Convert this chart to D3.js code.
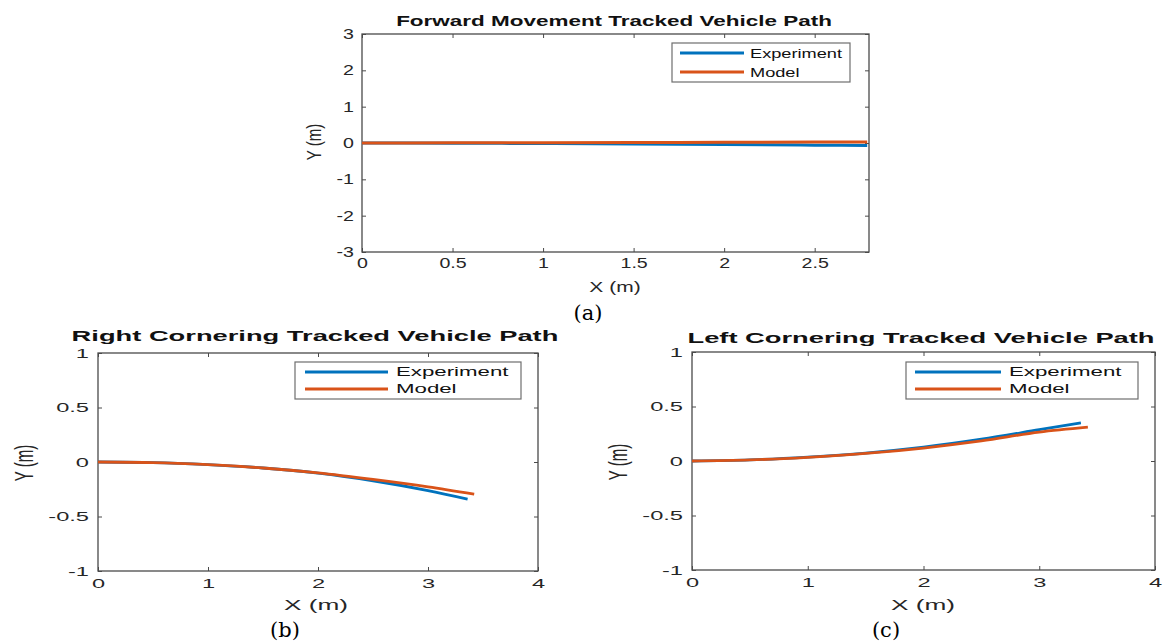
<!DOCTYPE html>
<html>
<head>
<meta charset="utf-8">
<script src="https://cdn.jsdelivr.net/npm/d3@7"></script>
<style>
  html, body { margin: 0; padding: 0; background: #fff; }
  svg { display: block; }
</style>
</head>
<body>
<svg id="chart" width="1170" height="643"></svg>
<script>
// ---------------- DATA ----------------
const seriesNames = ["Experiment", "Model"];

// (a) Forward movement
const fwdExpX   = [0, 0.5, 1.0, 1.5, 2.0, 2.5, 2.79];
const fwdExpY   = [0, -0.005, -0.015, -0.028, -0.042, -0.06, -0.07];
const fwdModelX = [0, 0.5, 1.0, 1.5, 2.0, 2.5, 2.79];
const fwdModelY = [0, 0.004, 0.009, 0.014, 0.019, 0.025, 0.03];

// (b) Right cornering
const rcExpX   = [0, 0.5, 1.0, 1.5, 2.0, 2.5, 3.0, 3.36];
const rcExpY   = [0, -0.005, -0.024, -0.055, -0.102, -0.172, -0.262, -0.34];
const rcModelX = [0, 0.5, 1.0, 1.5, 2.0, 2.5, 3.0, 3.42];
const rcModelY = [0, -0.005, -0.024, -0.055, -0.1, -0.16, -0.228, -0.295];

// (c) Left cornering
const lcExpX   = [0, 0.5, 1.0, 1.5, 2.0, 2.5, 3.0, 3.36];
const lcExpY   = [0, 0.01, 0.036, 0.073, 0.127, 0.2, 0.287, 0.35];
const lcModelX = [0, 0.5, 1.0, 1.5, 2.0, 2.5, 3.0, 3.42];
const lcModelY = [0, 0.01, 0.034, 0.069, 0.119, 0.184, 0.265, 0.31];

// tick labels
const fwdXTicks = [0, 0.5, 1, 1.5, 2, 2.5];
const fwdYTicks = [-3, -2, -1, 0, 1, 2, 3];
const cornXTicks = [0, 1, 2, 3, 4];
const cornYTicks = [-1, -0.5, 0, 0.5, 1];

const titles = [
  "Forward Movement Tracked Vehicle Path",
  "Right Cornering Tracked Vehicle Path",
  "Left Cornering Tracked Vehicle Path"
];
const panelLabels = ["(a)", "(b)", "(c)"];

// ---------------- STYLE ----------------
const colors = ["#0072BD", "#D95319"];
const axisColor = "#4a4a4a";
const textColor = "#262626";
const sansFont = "'Liberation Sans', Arial, Helvetica, sans-serif";
const serifFont = "'DejaVu Serif', Cambria, serif";

const svg = d3.select("#chart");
svg.append("rect").attr("width", 1170).attr("height", 643).attr("fill", "#fff");

function drawPanel(p) {
  const g = svg.append("g");
  const x = d3.scaleLinear().domain(p.xDomain).range([p.left, p.right]);
  const y = d3.scaleLinear().domain(p.yDomain).range([p.bottom, p.top]);
  const sx = p.sx;
  const fmt = d => String(d);

  function styleTicks(sel, showText) {
    sel.select(".domain").remove();
    sel.selectAll(".tick line").attr("stroke", axisColor).attr("stroke-width", 1);
    if (showText) {
      sel.selectAll(".tick text")
        .attr("font-family", sansFont)
        .attr("font-size", p.tickFont)
        .attr("fill", textColor)
        .attr("transform", `scale(${sx},1)`);
    } else {
      sel.selectAll(".tick text").remove();
    }
  }

  // bottom axis
  g.append("g").attr("transform", `translate(0,${p.bottom})`)
    .call(d3.axisBottom(x).tickValues(p.xTicks).tickSizeInner(-4).tickSizeOuter(0)
      .tickPadding(p.xPad).tickFormat(fmt))
    .call(s => styleTicks(s, true));
  // left axis
  g.append("g").attr("transform", `translate(${p.left},0)`)
    .call(d3.axisLeft(y).tickValues(p.yTicks).tickSizeInner(-4).tickSizeOuter(0)
      .tickPadding(p.yGap / sx).tickFormat(fmt))
    .call(s => styleTicks(s, true));
  // top axis (ticks only)
  g.append("g").attr("transform", `translate(0,${p.top})`)
    .call(d3.axisTop(x).tickValues(p.xTicks).tickSizeInner(-4).tickSizeOuter(0))
    .call(s => styleTicks(s, false));
  // right axis (ticks only)
  g.append("g").attr("transform", `translate(${p.right},0)`)
    .call(d3.axisRight(y).tickValues(p.yTicks).tickSizeInner(-4).tickSizeOuter(0))
    .call(s => styleTicks(s, false));

  // box
  g.append("rect")
    .attr("x", p.left).attr("y", p.top)
    .attr("width", p.right - p.left).attr("height", p.bottom - p.top)
    .attr("fill", "none").attr("stroke", axisColor).attr("stroke-width", 1.3);

  // lines
  const line = d3.line().x(d => x(d[0])).y(d => y(d[1])).curve(d3.curveMonotoneX);
  p.series.forEach((s, i) => {
    g.append("path")
      .datum(d3.zip(s.xs, s.ys))
      .attr("d", line)
      .attr("fill", "none")
      .attr("stroke", colors[i])
      .attr("stroke-width", p.lineWidth)
      .attr("stroke-linecap", "butt")
      .attr("stroke-linejoin", "round");
  });

  // title
  g.append("text")
    .attr("transform", `translate(${p.titleX},${p.titleY}) scale(${p.titleSx},1)`)
    .attr("text-anchor", "middle")
    .attr("font-family", sansFont)
    .attr("font-weight", "bold")
    .attr("font-size", p.titleFont)
    .attr("fill", "#111")
    .text(p.title);

  // axis labels
  g.append("text")
    .attr("transform", `translate(${p.xLabelX},${p.xLabelY}) scale(${sx},1)`)
    .attr("text-anchor", "middle").attr("dy", "0.35em")
    .attr("font-family", sansFont).attr("font-size", p.labelFont)
    .attr("fill", textColor)
    .text("X (m)");
  g.append("text")
    .attr("transform", `translate(${p.yLabelX},${p.yLabelY}) scale(${sx},1) rotate(-90)`)
    .attr("text-anchor", "middle").attr("dy", "0.35em")
    .attr("font-family", sansFont).attr("font-size", p.labelFont)
    .attr("fill", textColor)
    .text("Y (m)");

  // legend
  const L = p.legend;
  g.append("rect")
    .attr("x", L.x0).attr("y", L.y0)
    .attr("width", L.x1 - L.x0).attr("height", L.y1 - L.y0)
    .attr("fill", "#fff").attr("stroke", "#6e6e6e").attr("stroke-width", 1.2);
  seriesNames.forEach((name, i) => {
    const yy = L.rows[i];
    g.append("line")
      .attr("x1", L.lx0).attr("x2", L.lx1).attr("y1", yy).attr("y2", yy)
      .attr("stroke", colors[i]).attr("stroke-width", p.lineWidth);
    g.append("text")
      .attr("transform", `translate(${L.tx},${yy}) scale(${L.sx},1)`)
      .attr("dy", "0.35em")
      .attr("font-family", sansFont).attr("font-size", L.font)
      .attr("fill", "#111")
      .text(name);
  });

  // panel label
  svg.append("text")
    .attr("x", p.capX).attr("y", p.capY).attr("dy", "0.35em")
    .attr("text-anchor", "middle")
    .attr("font-family", serifFont).attr("font-size", 21)
    .attr("fill", "#000")
    .text(p.caption);
}

// (a)
drawPanel({
  left: 362, right: 869, top: 34, bottom: 252,
  xDomain: [0, 2.8], yDomain: [-3, 3],
  xTicks: fwdXTicks, yTicks: fwdYTicks,
  sx: 1.4, tickFont: 14, xPad: 6, yGap: 8,
  lineWidth: 3,
  series: [{xs: fwdExpX, ys: fwdExpY}, {xs: fwdModelX, ys: fwdModelY}],
  title: titles[0], titleX: 614, titleY: 26, titleFont: 15.5, titleSx: 1.45,
  xLabelX: 615, xLabelY: 287, yLabelX: 314, yLabelY: 142, labelFont: 15,
  legend: {x0: 672, x1: 850, y0: 43, y1: 82, lx0: 680, lx1: 744, tx: 750,
           rows: [53, 72], font: 13, sx: 1.4},
  caption: panelLabels[0], capX: 588, capY: 313
});

// (b)
drawPanel({
  left: 98, right: 538, top: 353, bottom: 571,
  xDomain: [0, 4], yDomain: [-1, 1],
  xTicks: cornXTicks, yTicks: cornYTicks,
  sx: 1.75, tickFont: 13.5, xPad: 7, yGap: 9,
  lineWidth: 2.8,
  series: [{xs: rcExpX, ys: rcExpY}, {xs: rcModelX, ys: rcModelY}],
  title: titles[1], titleX: 315, titleY: 341, titleFont: 15, titleSx: 1.82,
  xLabelX: 316, xLabelY: 605, yLabelX: 24, yLabelY: 463, labelFont: 15,
  legend: {x0: 295, x1: 521, y0: 362, y1: 399, lx0: 305, lx1: 388, tx: 396,
           rows: [372, 389], font: 12.5, sx: 1.78},
  caption: panelLabels[1], capX: 285, capY: 630
});

// (c)
drawPanel({
  left: 692, right: 1155, top: 352, bottom: 570,
  xDomain: [0, 4], yDomain: [-1, 1],
  xTicks: cornXTicks, yTicks: cornYTicks,
  sx: 1.75, tickFont: 13.5, xPad: 7, yGap: 9,
  lineWidth: 2.8,
  series: [{xs: lcExpX, ys: lcExpY}, {xs: lcModelX, ys: lcModelY}],
  title: titles[2], titleX: 921, titleY: 343, titleFont: 15, titleSx: 1.82,
  xLabelX: 923, xLabelY: 605, yLabelX: 618, yLabelY: 462, labelFont: 15,
  legend: {x0: 906, x1: 1138, y0: 362, y1: 399, lx0: 915, lx1: 1001, tx: 1009,
           rows: [372, 389], font: 12.5, sx: 1.78},
  caption: panelLabels[2], capX: 886, capY: 630
});
</script>
</body>
</html>
